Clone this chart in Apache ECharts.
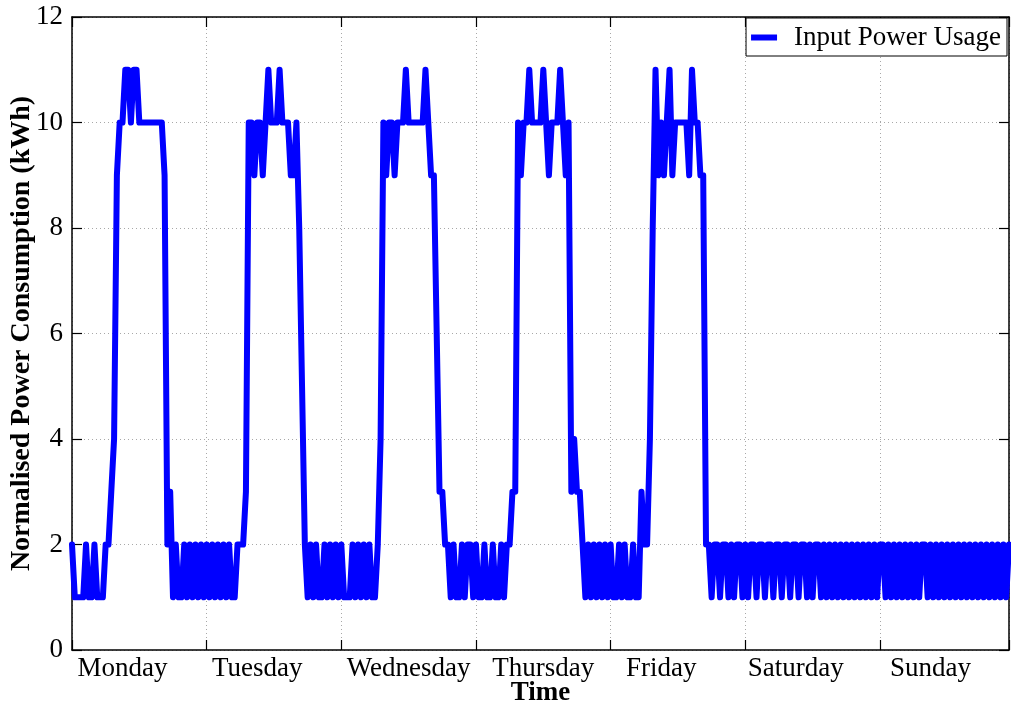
<!DOCTYPE html>
<html><head><meta charset="utf-8">
<script src="https://cdn.jsdelivr.net/npm/echarts@6/dist/echarts.min.js"></script>
<style>html,body{margin:0;padding:0;background:#fff}#c{width:1011px;height:707px}</style>
</head><body><div id="c"></div>
<script>
// Day labels and where they sit (in half-hour sample index units)
const dayNames = ['Monday', 'Tuesday', 'Wednesday', 'Thursday', 'Friday', 'Saturday', 'Sunday'];
const dayLabelPos = [18, 66, 120, 168, 210, 258, 306];
const seriesName = 'Input Power Usage';

// Half-hourly normalised power readings (kWh), 48 per day
const monday    = [2,1,1,1,1,2,1,1,2,1,1,1,2,2,3,4,9,10,10,11,11,10,11,11,10,10,10,10,10,10,10,10,10,9,2,3,1,2,1,1,2,1,2,1,2,1,2,1];
const tuesday   = [2,1,2,1,2,1,2,1,2,1,1,2,2,2,3,10,10,9,10,10,9,10,11,10,10,10,11,10,10,10,9,9,10,8,5,2,1,2,1,2,1,1,2,1,2,1,2,1];
const wednesday = [2,1,1,1,2,1,2,1,2,1,2,1,1,2,4,10,9,10,10,9,10,10,10,11,10,10,10,10,10,10,11,10,9,9,6,3,3,2,2,1,2,1,1,2,1,2,2,1];
const thursday  = [2,1,1,2,1,1,2,1,1,2,1,2,2,3,3,10,9,10,10,11,10,10,10,10,11,10,9,10,10,10,11,10,9,10,3,4,3,3,2,1,2,1,2,1,2,1,2,1];
const friday    = [2,1,1,2,1,2,1,1,2,1,1,3,2,2,4,8,11,9,10,9,10,11,9,10,10,10,10,10,9,11,10,10,9,9,2,2,1,2,2,1,2,2,1,2,1,2,2,1];
const saturday  = [2,1,2,2,1,2,2,1,2,2,1,2,2,1,2,2,1,2,2,1,2,2,1,2,1,2,2,1,2,1,2,1,2,1,2,1,2,1,2,1,2,1,2,1,2,1,2,1];
const sunday    = [2,2,1,2,1,2,1,2,1,2,1,2,1,2,1,2,2,1,2,1,2,1,2,1,2,1,2,1,2,1,2,1,2,1,2,1,2,1,2,1,2,1,2,1,2,1,2];

const yMin = 0, yMax = 12, yStep = 2;

const values = [].concat(monday, tuesday, wednesday, thursday, friday, saturday, sunday);
const seriesData = values.map((v, i) => [i, v]);
const xMax = values.length - 1;

const font = 'Liberation Serif';
const black = '#000';
const gridLine = { show: true, lineStyle: { color: '#a8a8a8', type: [1, 3], width: 1 } };
const axisLine = { show: true, onZero: false, lineStyle: { color: black, width: 1.5 } };
const tick = { show: true, inside: true, length: 10, lineStyle: { color: black, width: 1.2 } };

const chart = echarts.init(document.getElementById('c'), null, { renderer: 'canvas' });
chart.setOption({
  animation: false,
  backgroundColor: '#fff',
  grid: { left: 72, right: 2, top: 17, bottom: 57, containLabel: false, outerBoundsMode: 'none' },
  legend: {
    data: [{ name: seriesName, icon: 'rect' }],
    right: 4, top: 18,
    backgroundColor: '#fff',
    borderColor: black, borderWidth: 1,
    padding: [6, 6, 5, 5],
    itemWidth: 26, itemHeight: 6,
    itemStyle: { color: '#0000ff', borderWidth: 0 },
    textStyle: { fontFamily: font, fontSize: 27, color: black, padding: [0, 0, 0, 12] }
  },
  xAxis: [
    {
      type: 'value', min: 0, max: xMax, interval: 48, position: 'bottom',
      axisLine: axisLine, axisTick: tick, splitLine: gridLine,
      axisLabel: {
        customValues: dayLabelPos,
        formatter: v => dayNames[dayLabelPos.indexOf(v)] || '',
        fontFamily: font, fontSize: 27, color: black, margin: 5
      },
      name: 'Time', nameLocation: 'middle', nameGap: 30, nameMoveOverlap: false,
      nameTextStyle: { fontFamily: font, fontWeight: 'bold', fontSize: 27, color: black }
    },
    {
      type: 'value', min: 0, max: xMax, interval: 48, position: 'top',
      axisLine: axisLine, axisTick: tick, splitLine: { show: false },
      axisLabel: { show: false }
    }
  ],
  yAxis: [
    {
      type: 'value', min: yMin, max: yMax, interval: yStep, position: 'left',
      axisLine: axisLine, axisTick: tick, splitLine: gridLine,
      axisLabel: { fontFamily: font, fontSize: 27, color: black, margin: 9 },
      name: 'Normalised Power Consumption (kWh)', nameLocation: 'middle', nameGap: 36, nameMoveOverlap: false,
      nameTextStyle: { fontFamily: font, fontWeight: 'bold', fontSize: 28, color: black }
    },
    {
      type: 'value', min: yMin, max: yMax, interval: yStep, position: 'right',
      axisLine: axisLine, axisTick: tick, splitLine: { show: false },
      axisLabel: { show: false }
    }
  ],
  series: [{
    name: seriesName, type: 'line', xAxisIndex: 0, yAxisIndex: 0,
    data: seriesData, symbol: 'none', showSymbol: false,
    lineStyle: { color: '#0000ff', width: 6, join: 'round', cap: 'round' },
    itemStyle: { color: '#0000ff' }
  }]
});
</script>
</body></html>
